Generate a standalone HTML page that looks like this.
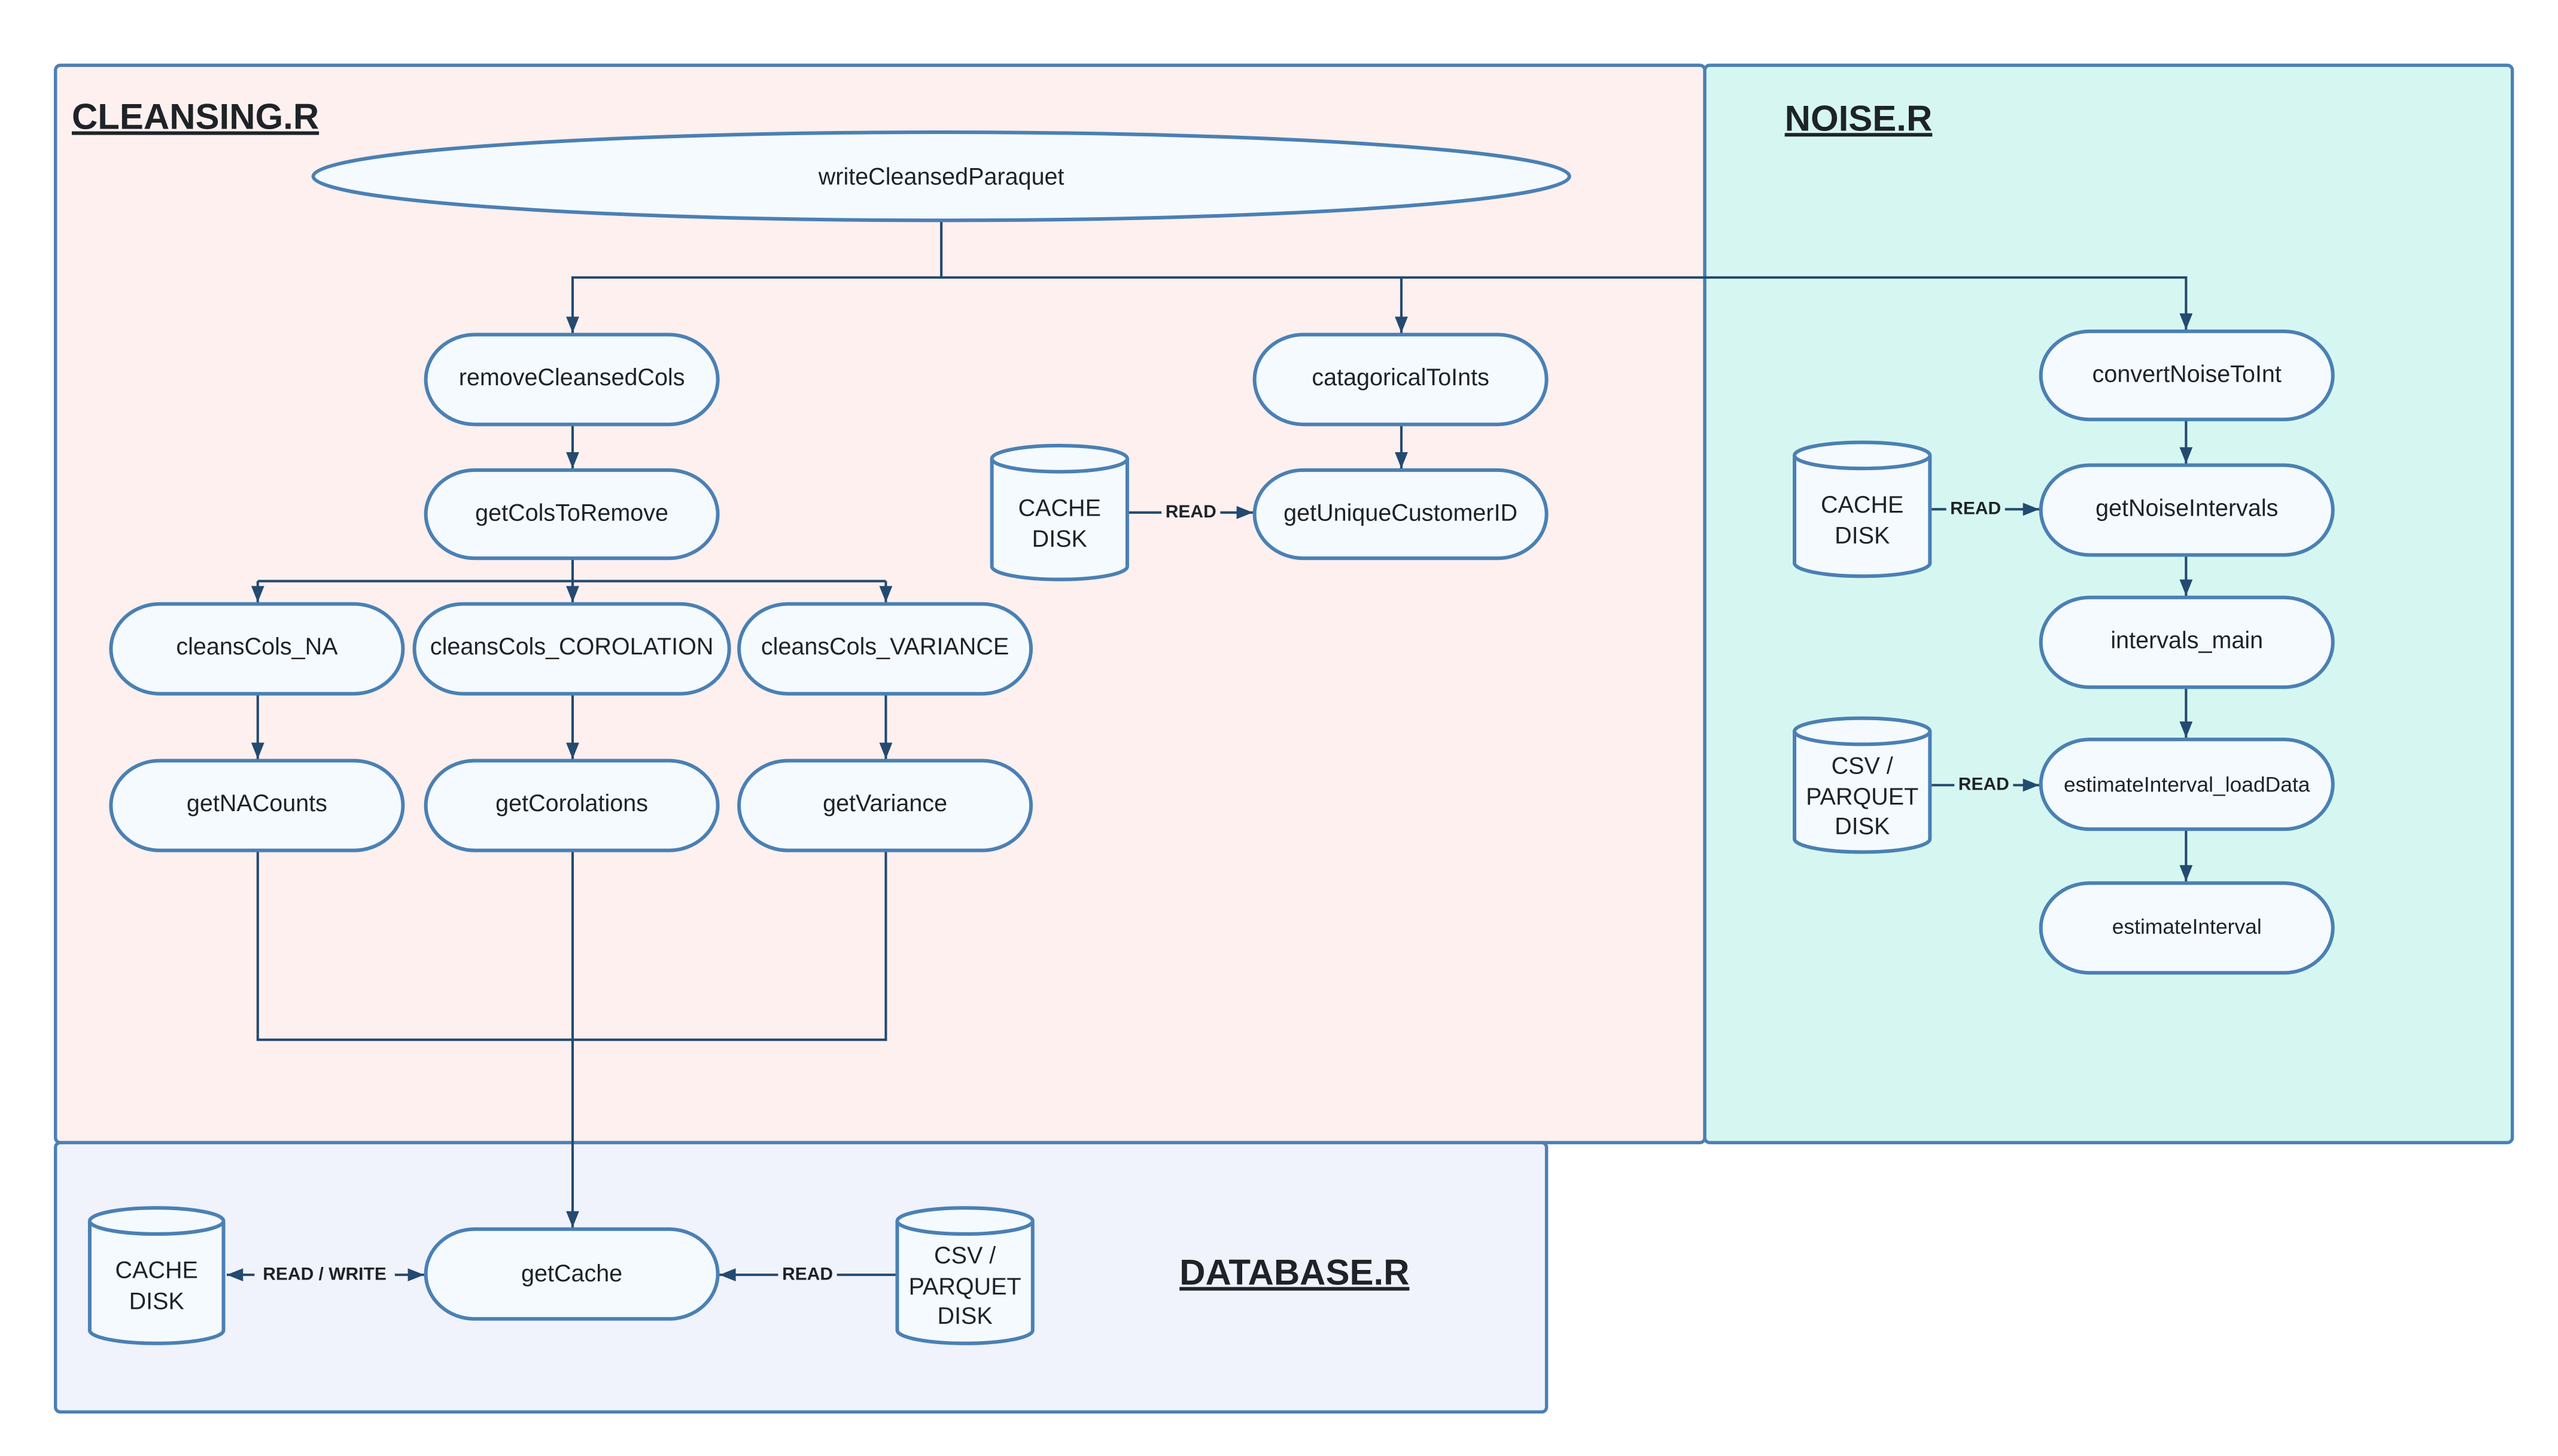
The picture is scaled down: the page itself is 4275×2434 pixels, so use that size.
<!DOCTYPE html>
<html><head><meta charset="utf-8"><style>
html,body{margin:0;padding:0;background:#fff;}
svg{display:block;}
text{font-family:"Liberation Sans",sans-serif;fill:#1e2328;}
.n{font-size:14.5px;text-anchor:middle;}
.lb{font-size:11px;font-weight:bold;text-anchor:middle;}
.t{font-size:22px;font-weight:bold;text-decoration:underline;}
.node{fill:#f5faff;stroke:#4a80b4;stroke-width:2.2;}
.ln{fill:none;stroke:#234a70;stroke-width:1.5;}
</style></head><body>
<svg width="4275" height="2434" viewBox="0 0 1568 892" preserveAspectRatio="none" xmlns="http://www.w3.org/2000/svg">
<defs>
<marker id="a" viewBox="0 0 10 10" refX="10" refY="5" markerWidth="12" markerHeight="10" orient="auto-start-reverse" markerUnits="userSpaceOnUse"><path d="M0,1 L10,5 L0,9 z" fill="#234a70"/></marker>
</defs>
<rect x="34" y="40" width="1011" height="660" rx="3" fill="#fdf0ee" stroke="#4a80b4" stroke-width="2"/>
<rect x="1045" y="40" width="495" height="660" rx="3" fill="#d6f7f1" stroke="#4a80b4" stroke-width="2"/>
<rect x="34" y="700" width="914" height="165" rx="3" fill="#f0f2fc" stroke="#4a80b4" stroke-width="2"/>
<text class="t" x="44" y="79">CLEANSING.R</text>
<text class="t" x="1094" y="80">NOISE.R</text>
<text class="t" x="723" y="787">DATABASE.R</text>

<path class="ln" d="M577,135 V170 H351 V204" marker-end="url(#a)"/>
<path class="ln" d="M577,170 H859 V204" marker-end="url(#a)"/>
<path class="ln" d="M859,170 H1340 V202" marker-end="url(#a)"/>
<path class="ln" d="M351,260 V287" marker-end="url(#a)"/>
<path class="ln" d="M859,260 V287" marker-end="url(#a)"/>
<path class="ln" d="M351,342 V369" marker-end="url(#a)"/>
<path class="ln" d="M158,356 H543"/>
<path class="ln" d="M158,356 V369" marker-end="url(#a)"/>
<path class="ln" d="M543,356 V369" marker-end="url(#a)"/>
<path class="ln" d="M158,425 V465" marker-end="url(#a)"/>
<path class="ln" d="M351,425 V465" marker-end="url(#a)"/>
<path class="ln" d="M543,425 V465" marker-end="url(#a)"/>
<path class="ln" d="M158,521 V637 H543 V521"/>
<path class="ln" d="M351,521 V752" marker-end="url(#a)"/>
<path class="ln" d="M1340,257 V284" marker-end="url(#a)"/>
<path class="ln" d="M1340,340 V365" marker-end="url(#a)"/>
<path class="ln" d="M1340,421 V452" marker-end="url(#a)"/>
<path class="ln" d="M1340,508 V540" marker-end="url(#a)"/>
<path class="ln" d="M691,314 H768" marker-end="url(#a)"/>
<path class="ln" d="M1183,312 H1250" marker-end="url(#a)"/>
<path class="ln" d="M1183,481 H1250" marker-end="url(#a)"/>
<path class="ln" d="M139,781 H260" marker-start="url(#a)" marker-end="url(#a)"/>
<path class="ln" d="M550,781 H441" marker-end="url(#a)"/>
<rect x="712" y="306" width="36" height="14" fill="#fdf0ee"/>
<text class="lb" x="730" y="317">READ</text>
<rect x="1193" y="304" width="36" height="14" fill="#d6f7f1"/>
<text class="lb" x="1211" y="315">READ</text>
<rect x="1198" y="473" width="36" height="14" fill="#d6f7f1"/>
<text class="lb" x="1216" y="484">READ</text>
<rect x="156" y="773" width="86" height="14" fill="#f0f2fc"/>
<text class="lb" x="199" y="784">READ / WRITE</text>
<rect x="477" y="773" width="36" height="14" fill="#f0f2fc"/>
<text class="lb" x="495" y="784">READ</text>

<ellipse class="node" cx="577" cy="108" rx="385" ry="27"/>
<text class="n" x="577" y="113">writeCleansedParaquet</text>

<g>
<rect class="node" x="261" y="205" width="179" height="55" rx="30" ry="27.5"/><text class="n" x="350.5" y="236">removeCleansedCols</text>
<rect class="node" x="261" y="288" width="179" height="54" rx="30" ry="27"/><text class="n" x="350.5" y="319">getColsToRemove</text>
<rect class="node" x="68" y="370" width="179" height="55" rx="30" ry="27.5"/><text class="n" x="157.5" y="401">cleansCols_NA</text>
<rect class="node" x="254" y="370" width="193" height="55" rx="30" ry="27.5"/><text class="n" x="350.5" y="401">cleansCols_COROLATION</text>
<rect class="node" x="453" y="370" width="179" height="55" rx="30" ry="27.5"/><text class="n" x="542.5" y="401">cleansCols_VARIANCE</text>
<rect class="node" x="68" y="466" width="179" height="55" rx="30" ry="27.5"/><text class="n" x="157.5" y="497">getNACounts</text>
<rect class="node" x="261" y="466" width="179" height="55" rx="30" ry="27.5"/><text class="n" x="350.5" y="497">getCorolations</text>
<rect class="node" x="453" y="466" width="179" height="55" rx="30" ry="27.5"/><text class="n" x="542.5" y="497">getVariance</text>
<rect class="node" x="769" y="205" width="179" height="55" rx="30" ry="27.5"/><text class="n" x="858.5" y="236">catagoricalToInts</text>
<rect class="node" x="769" y="288" width="179" height="54" rx="30" ry="27"/><text class="n" x="858.5" y="319">getUniqueCustomerID</text>
<rect class="node" x="261" y="753" width="179" height="55" rx="30" ry="27.5"/><text class="n" x="350.5" y="785">getCache</text>
<rect class="node" x="1251" y="203" width="179" height="54" rx="30" ry="27"/><text class="n" x="1340.5" y="234">convertNoiseToInt</text>
<rect class="node" x="1251" y="285" width="179" height="55" rx="30" ry="27.5"/><text class="n" x="1340.5" y="316">getNoiseIntervals</text>
<rect class="node" x="1251" y="366" width="179" height="55" rx="30" ry="27.5"/><text class="n" x="1340.5" y="397">intervals_main</text>
<rect class="node" x="1251" y="453" width="179" height="55" rx="30" ry="27.5"/><text class="n" x="1340.5" y="485" style="font-size:13px">estimateInterval_loadData</text>
<rect class="node" x="1251" y="541" width="179" height="55" rx="30" ry="27.5"/><text class="n" x="1340.5" y="572" style="font-size:13px">estimateInterval</text>
</g>

<g>
<path class="node" d="M608,281 V347 A41.5,8 0 0 0 691,347 V281 A41.5,8 0 0 0 608,281 Z"/><path class="node" d="M608,281 A41.5,8 0 0 0 691,281" fill="none"/>
<text class="n" x="649.5" y="316">CACHE</text><text class="n" x="649.5" y="335">DISK</text>

<path class="node" d="M1100,279 V345 A41.5,8 0 0 0 1183,345 V279 A41.5,8 0 0 0 1100,279 Z"/><path class="node" d="M1100,279 A41.5,8 0 0 0 1183,279" fill="none"/>
<text class="n" x="1141.5" y="314">CACHE</text><text class="n" x="1141.5" y="333">DISK</text>

<path class="node" d="M1100,448 V514 A41.5,8 0 0 0 1183,514 V448 A41.5,8 0 0 0 1100,448 Z"/><path class="node" d="M1100,448 A41.5,8 0 0 0 1183,448" fill="none"/>
<text class="n" x="1141.5" y="474">CSV /</text><text class="n" x="1141.5" y="493">PARQUET</text><text class="n" x="1141.5" y="511">DISK</text>

<path class="node" d="M55,748 V815 A41,8 0 0 0 137,815 V748 A41,8 0 0 0 55,748 Z"/><path class="node" d="M55,748 A41,8 0 0 0 137,748" fill="none"/>
<text class="n" x="96" y="783">CACHE</text><text class="n" x="96" y="802">DISK</text>

<path class="node" d="M550,748 V815 A41.5,8 0 0 0 633,815 V748 A41.5,8 0 0 0 550,748 Z"/><path class="node" d="M550,748 A41.5,8 0 0 0 633,748" fill="none"/>
<text class="n" x="591.5" y="774">CSV /</text><text class="n" x="591.5" y="793">PARQUET</text><text class="n" x="591.5" y="811">DISK</text>
</g>
</svg>
</body></html>
